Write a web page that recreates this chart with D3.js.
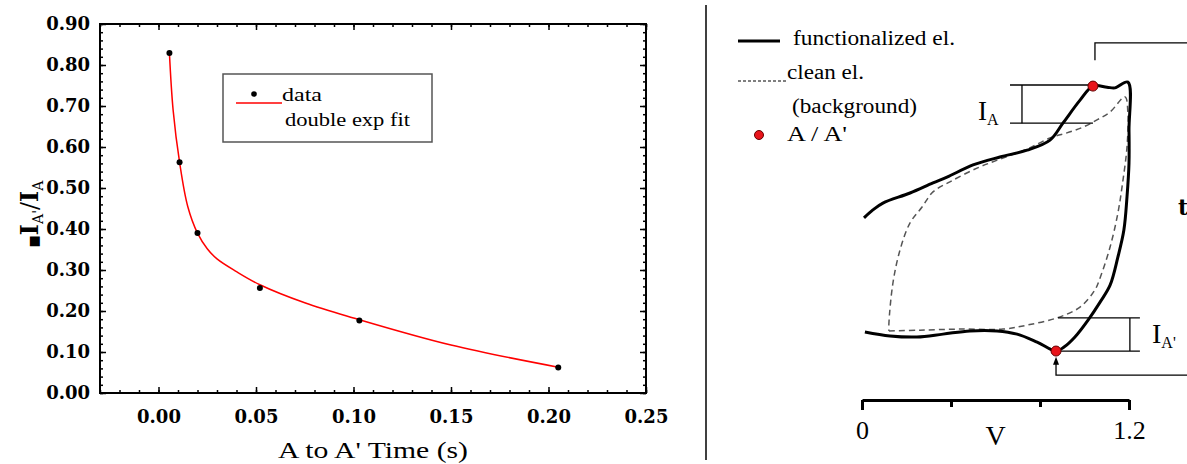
<!DOCTYPE html>
<html>
<head>
<meta charset="utf-8">
<script src="https://cdn.jsdelivr.net/npm/d3@7"></script>
<style>
body { margin: 0; background: #fff; }
svg { display: block; }
</style>
</head>
<body>
<div id="chart"></div>
<script>
// ---- left panel: I_A'/I_A vs delay time ----
const timeVals  = [0.0056, 0.0108, 0.020, 0.052, 0.103, 0.205];
const ratioVals = [0.829, 0.563, 0.390, 0.256, 0.177, 0.062];

// double exponential fit
const fitTime  = [0.0056, 0.0075, 0.0108, 0.015, 0.020, 0.025, 0.030, 0.040, 0.052, 0.075, 0.100, 0.150, 0.205];
const fitRatio = [0.829, 0.690, 0.563, 0.455, 0.390, 0.352, 0.327, 0.296, 0.264, 0.220, 0.183, 0.117, 0.063];

const xTicks = [0, 0.05, 0.10, 0.15, 0.20, 0.25];
const yTicks = [0, 0.1, 0.2, 0.3, 0.4, 0.5, 0.6, 0.7, 0.8, 0.9];
const xMinor = d3.range(-3, 26).map(i => i / 100);
const yMinor = d3.range(0, 46).map(i => i / 50);

// ---- right panel: schematic CV (V, current in a.u.) ----
const funcV   = [0.009, 0.049, 0.094, 0.216, 0.319, 0.382, 0.499, 0.620, 0.742, 0.845, 0.903, 0.980, 1.038, 1.101, 1.137, 1.195,
                 1.200, 1.200, 1.191, 1.177, 1.150, 1.115, 1.070, 1.016, 0.957, 0.908, 0.872,
                 0.787, 0.697, 0.607, 0.485, 0.364, 0.247, 0.126, 0.013];
const funcCur = [0.506, 0.528, 0.547, 0.575, 0.603, 0.619, 0.653, 0.675, 0.694, 0.722, 0.769, 0.833, 0.872, 0.869, 0.867, 0.883,
                 0.750, 0.658, 0.564, 0.472, 0.397, 0.319, 0.272, 0.222, 0.175, 0.147, 0.136,
                 0.161, 0.183, 0.192, 0.192, 0.183, 0.175, 0.178, 0.189];

const cleanV   = [0.121, 0.261, 0.440, 0.634, 0.742, 0.876, 0.980, 1.047, 1.070, 1.115, 1.150, 1.173, 1.191, 1.195, 1.182,
                  1.115, 1.056, 0.993, 0.921, 0.845, 0.742, 0.620, 0.517, 0.395, 0.319, 0.270, 0.216, 0.171, 0.139, 0.121, 0.121];
const cleanCur = [0.192, 0.194, 0.197, 0.197, 0.208, 0.228, 0.258, 0.306, 0.339, 0.425, 0.519, 0.611, 0.703, 0.797, 0.842,
                  0.800, 0.778, 0.758, 0.742, 0.728, 0.697, 0.669, 0.644, 0.606, 0.578, 0.536, 0.492, 0.417, 0.325, 0.214, 0.192];

const markV   = [1.038, 0.872];   // A, A'
const markCur = [0.872, 0.136];

const vTicks = [0, 0.4, 0.8, 1.2];

const svg = d3.select("#chart")
    .append("svg")
    .attr("width", 1187)
    .attr("height", 464);

const serif = "'Liberation Serif', 'Times New Roman', serif";
const bold = "'DejaVu Serif', serif";

// Scales
const x = d3.scaleLinear().domain([-0.03, 0.25]).range([100, 646]);
const y = d3.scaleLinear().domain([0, 0.9]).range([393, 24]);

function styleAxis(g) {
    g.select(".domain").remove();
    g.selectAll("line").attr("stroke", "#000").attr("stroke-width", 1.5);
    g.selectAll("text").attr("font-family", bold).attr("font-weight", "bold").attr("font-size", 18).attr("fill", "#000");
}

// minor ticks
svg.append("g").attr("transform", "translate(0,393)")
    .call(d3.axisBottom(x).tickValues(xMinor).tickSize(-3).tickSizeOuter(0).tickFormat("")).call(styleAxis);
svg.append("g").attr("transform", "translate(0,24)")
    .call(d3.axisTop(x).tickValues(xMinor).tickSize(-3).tickSizeOuter(0).tickFormat("")).call(styleAxis);
svg.append("g").attr("transform", "translate(100,0)")
    .call(d3.axisLeft(y).tickValues(yMinor).tickSize(-3).tickSizeOuter(0).tickFormat("")).call(styleAxis);
svg.append("g").attr("transform", "translate(646,0)")
    .call(d3.axisRight(y).tickValues(yMinor).tickSize(-3).tickSizeOuter(0).tickFormat("")).call(styleAxis);

// major ticks
svg.append("g").attr("transform", "translate(0,393)")
    .call(d3.axisBottom(x).tickValues(xTicks).tickSize(-6).tickSizeOuter(0).tickPadding(17).tickFormat(d3.format(".2f"))).call(styleAxis);
svg.append("g").attr("transform", "translate(0,24)")
    .call(d3.axisTop(x).tickValues(xTicks).tickSize(-6).tickSizeOuter(0).tickFormat("")).call(styleAxis);
svg.append("g").attr("transform", "translate(100,0)")
    .call(d3.axisLeft(y).tickValues(yTicks).tickSize(-6).tickSizeOuter(0).tickPadding(10).tickFormat(d3.format(".2f"))).call(styleAxis);
svg.append("g").attr("transform", "translate(646,0)")
    .call(d3.axisRight(y).tickValues(yTicks).tickSize(-6).tickSizeOuter(0).tickFormat("")).call(styleAxis);

// frame
svg.append("rect")
    .attr("x", x(-0.03)).attr("y", y(0.9))
    .attr("width", x(0.25) - x(-0.03)).attr("height", y(0) - y(0.9))
    .attr("fill", "none").attr("stroke", "#000").attr("stroke-width", 2);

// fit line
const fitLine = d3.line()
    .x((d, i) => x(fitTime[i]))
    .y(d => y(d))
    .curve(d3.curveCatmullRom.alpha(0.5));

svg.append("path")
    .datum(fitRatio)
    .attr("fill", "none")
    .attr("stroke", "#ff0000")
    .attr("stroke-width", 1.5)
    .attr("d", fitLine);

// data points
svg.selectAll("circle.pt")
    .data(ratioVals)
    .enter()
    .append("circle")
    .attr("class", "pt")
    .attr("cx", (d, i) => x(timeVals[i]))
    .attr("cy", d => y(d))
    .attr("r", 3)
    .attr("fill", "#000");

// legend
svg.append("rect")
    .attr("x", 223).attr("y", 74).attr("width", 209).attr("height", 68)
    .attr("fill", "none").attr("stroke", "#555").attr("stroke-width", 1.5);
svg.append("line")
    .attr("x1", 236).attr("x2", 282).attr("y1", 103).attr("y2", 103)
    .attr("stroke", "#ff0000").attr("stroke-width", 1.5);
svg.append("circle").attr("cx", 254).attr("cy", 94).attr("r", 2.8).attr("fill", "#000");
svg.append("text").attr("x", 282).attr("y", 100.5)
    .attr("font-family", serif).attr("font-size", 19)
    .attr("textLength", 40).attr("lengthAdjust", "spacingAndGlyphs").text("data");
svg.append("text").attr("x", 285).attr("y", 126)
    .attr("font-family", serif).attr("font-size", 19)
    .attr("textLength", 125).attr("lengthAdjust", "spacingAndGlyphs").text("double exp fit");

// X axis label
svg.append("text")
    .attr("x", 278).attr("y", 458)
    .attr("font-family", serif).attr("font-size", 23)
    .attr("textLength", 190).attr("lengthAdjust", "spacingAndGlyphs")
    .text("A to A' Time (s)");

// Y axis label
const yLab = svg.append("text")
    .attr("transform", "translate(38,214) rotate(-90)")
    .attr("text-anchor", "middle")
    .attr("font-family", bold).attr("font-weight", "bold").attr("font-size", 24);
yLab.append("tspan").attr("font-size", 13).attr("dy", 0).text("\u25A0");
yLab.append("tspan").text("I");
yLab.append("tspan").attr("font-size", 14).attr("font-weight", "normal").attr("dy", 5).text("A'");
yLab.append("tspan").attr("font-weight", "normal").attr("dy", -5).text("/");
yLab.append("tspan").text("I");
yLab.append("tspan").attr("font-size", 14).attr("font-weight", "normal").attr("dy", 5).text("A");

// separator
svg.append("line")
    .attr("x1", 706).attr("x2", 706).attr("y1", 5).attr("y2", 460)
    .attr("stroke", "#000").attr("stroke-width", 1.5);

// ---- right panel ----
const v = d3.scaleLinear().domain([0, 1.2]).range([862, 1129]);
const cur = d3.scaleLinear().domain([0, 1]).range([400, 40]);

const cvLine = d3.line()
    .x(d => v(d[0]))
    .y(d => cur(d[1]))
    .curve(d3.curveCatmullRom.alpha(0.5));

svg.append("path")
    .datum(d3.zip(cleanV, cleanCur))
    .attr("fill", "none")
    .attr("stroke", "#555")
    .attr("stroke-width", 1.5)
    .attr("stroke-dasharray", "6,4")
    .attr("d", cvLine);

svg.append("path")
    .datum(d3.zip(funcV, funcCur))
    .attr("fill", "none")
    .attr("stroke", "#000")
    .attr("stroke-width", 3)
    .attr("stroke-linejoin", "round")
    .attr("d", cvLine);

// brackets for I_A and I_A'
const bracket = d3.line().x(d => v(d[0])).y(d => cur(d[1]));
const bracketPaths = [
    [[0.665, 0.875], [1.038, 0.875]],
    [[0.665, 0.769], [1.038, 0.769]],
    [[0.719, 0.875], [0.719, 0.769]],
    [[0.881, 0.228], [1.249, 0.228]],
    [[0.881, 0.136], [1.249, 0.136]],
    [[1.204, 0.228], [1.204, 0.136]],
    [[1.047, 0.944], [1.047, 0.992], [1.5, 0.992]],
    [[0.872, 0.106], [0.872, 0.069], [1.5, 0.069]]
];
svg.selectAll("path.bracket")
    .data(bracketPaths)
    .enter()
    .append("path")
    .attr("class", "bracket")
    .attr("fill", "none")
    .attr("stroke", "#000")
    .attr("stroke-width", 1.3)
    .attr("d", bracket);

// arrowhead under A'
svg.append("path")
    .attr("d", `M${v(0.872)},${cur(0.106) - 5} l-3,8 l6,0 z`)
    .attr("fill", "#000");

// A / A' markers
svg.selectAll("circle.mark")
    .data(markCur)
    .enter()
    .append("circle")
    .attr("class", "mark")
    .attr("cx", (d, i) => v(markV[i]))
    .attr("cy", d => cur(d))
    .attr("r", 5)
    .attr("fill", "#e8141b")
    .attr("stroke", "#600")
    .attr("stroke-width", 1);

// I labels
const iaLab = svg.append("text").attr("x", 978).attr("y", 120)
    .attr("font-family", serif).attr("font-size", 27);
iaLab.append("tspan").text("I");
iaLab.append("tspan").attr("font-size", 16).attr("dy", 5).text("A");

const iapLab = svg.append("text").attr("x", 1152).attr("y", 343)
    .attr("font-family", serif).attr("font-size", 28);
iapLab.append("tspan").text("I");
iapLab.append("tspan").attr("font-size", 16).attr("dy", 5).text("A'");

svg.append("text").attr("x", 1178).attr("y", 215)
    .attr("font-family", bold).attr("font-weight", "bold").attr("font-size", 22).text("t");

// V axis
const vAxis = svg.append("g").attr("transform", "translate(0,400)")
    .call(d3.axisBottom(v).tickValues(vTicks).tickSize(7).tickSizeOuter(0).tickPadding(14)
        .tickFormat(d => d === 0 ? "0" : d === 1.2 ? "1.2" : ""));
vAxis.select(".domain").attr("stroke", "#000").attr("stroke-width", 3);
vAxis.selectAll(".tick line").attr("stroke", "#000").attr("stroke-width", 3)
    .attr("y2", d => (d === 0 || d === 1.2) ? 10 : 7);
vAxis.selectAll("text").attr("font-family", serif).attr("font-size", 26).attr("fill", "#000");
svg.append("text").attr("x", v(0.6)).attr("y", 445)
    .attr("text-anchor", "middle").attr("font-family", serif).attr("font-size", 28).text("V");

// right legend
svg.append("line").attr("x1", 738).attr("x2", 780).attr("y1", 41).attr("y2", 41)
    .attr("stroke", "#000").attr("stroke-width", 3);
svg.append("text").attr("x", 793).attr("y", 45)
    .attr("font-family", serif).attr("font-size", 20)
    .attr("textLength", 162).attr("lengthAdjust", "spacingAndGlyphs").text("functionalized el.");
svg.append("line").attr("x1", 738).attr("x2", 786).attr("y1", 81).attr("y2", 81)
    .attr("stroke", "#000").attr("stroke-width", 1).attr("stroke-dasharray", "3,2");
svg.append("text").attr("x", 787).attr("y", 79)
    .attr("font-family", serif).attr("font-size", 20)
    .attr("textLength", 77).attr("lengthAdjust", "spacingAndGlyphs").text("clean el.");
svg.append("text").attr("x", 792).attr("y", 113)
    .attr("font-family", serif).attr("font-size", 20)
    .attr("textLength", 125).attr("lengthAdjust", "spacingAndGlyphs").text("(background)");
svg.append("circle").attr("cx", 759).attr("cy", 135).attr("r", 4.5)
    .attr("fill", "#e8141b").attr("stroke", "#600").attr("stroke-width", 1);
svg.append("text").attr("x", 787).attr("y", 141)
    .attr("font-family", serif).attr("font-size", 20)
    .attr("textLength", 60).attr("lengthAdjust", "spacingAndGlyphs").text("A / A'");
</script>
</body>
</html>
